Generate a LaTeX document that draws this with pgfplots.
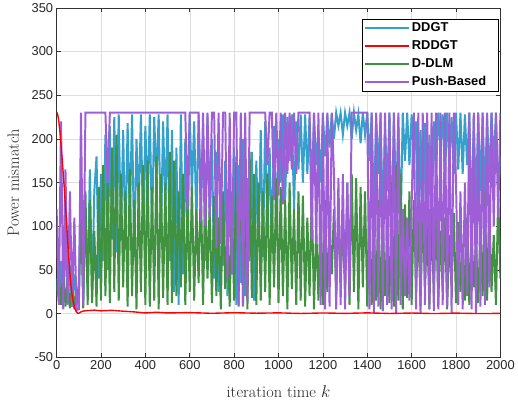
\documentclass[border=0pt]{standalone}
\usepackage{fontspec}
\usepackage{pgfplots}
\usepackage{pgfplotstable}
\pgfplotsset{compat=1.18}
\newfontfamily\arial{Liberation Sans}

\definecolor{cddgt}{RGB}{52,160,204}
\definecolor{cddlm}{RGB}{64,145,64}
\definecolor{cpush}{RGB}{158,95,214}

% x, DDGT, D-DLM, Push-Based (read every 10 iterations)
\pgfplotstableread{
x b g p
0 40 20 120
10 15 45 10
20 60 10 220
30 20 55 5
40 85 8 165
50 10 40 12
60 55 6 140
70 8 35 8
80 45 5 110
90 12 30 4
100 25 8 5
110 150 120 230
120 15 6 10
130 120 140 230
140 30 10 230
150 165 130 230
160 20 12 230
170 140 95 230
180 180 8 230
190 40 145 230
200 160 15 230
210 60 170 230
220 205 20 230
230 50 150 150
240 215 12 230
250 85 190 230
260 225 25 230
270 70 205 230
280 228 15 230
290 90 160 230
300 210 30 230
310 75 140 230
320 218 8 230
330 110 165 230
340 228 20 230
350 65 130 230
360 200 5 230
370 120 150 230
380 228 25 230
390 90 170 230
400 215 10 230
410 130 175 230
420 228 8 230
430 95 145 230
440 225 15 230
450 150 180 230
460 228 5 230
470 85 160 230
480 220 18 230
490 120 150 230
500 228 10 230
510 60 185 230
520 210 12 230
530 25 175 230
540 190 20 230
550 10 140 230
560 228 30 230
570 45 160 230
580 200 10 230
590 70 130 120
600 228 25 230
610 140 145 230
620 220 15 230
630 100 120 230
640 228 35 230
650 130 150 105
660 205 10 230
670 60 140 100
680 225 40 230
690 110 125 110
700 200 12 230
710 40 135 230
720 185 20 75
730 25 110 230
740 160 5 80
750 55 140 230
760 175 28 230
770 20 100 40
780 150 8 230
790 45 130 45
800 190 15 230
810 10 180 230
820 170 8 10
830 35 195 230
840 200 12 8
850 20 150 230
860 155 5 15
870 60 185 230
880 185 18 230
890 15 160 230
900 175 10 230
910 80 150 230
920 210 15 230
930 65 140 230
940 220 25 230
950 100 160 170
960 190 10 230
970 70 135 230
980 215 30 130
990 90 155 230
1000 200 12 135
1010 150 145 230
1020 228 20 125
1030 130 130 230
1040 225 5 160
1050 175 150 230
1060 228 28 165
1070 120 120 230
1080 220 10 160
1090 165 140 230
1100 228 15 230
1110 150 135 230
1120 228 8 230
1130 160 110 230
1140 225 20 230
1150 140 140 85
1160 228 5 230
1170 170 100 80
1180 210 15 230
1190 150 125 10
1200 228 10 230
1210 180 130 5
1220 228 25 230
1230 190 95 8
1240 228 45 230
1250 200 120 160
1260 230 20 5
1270 215 110 155
1280 230 50 10
1290 205 90 160
1300 230 30 5
1310 215 150 150
1320 230 10 20
1330 200 160 230
1340 230 25 230
1350 210 155 230
1360 228 5 230
1370 195 145 230
1380 230 30 230
1390 205 140 230
1400 230 8 230
1410 175 125 5
1420 230 10 230
1430 110 100 0
1440 228 15 230
1450 160 130 8
1460 230 5 230
1470 100 110 3
1480 220 20 230
1490 140 95 10
1500 230 12 230
1510 80 150 5
1520 230 8 230
1530 120 170 0
1540 225 15 230
1550 90 160 10
1560 230 5 120
1570 175 125 20
1580 230 18 110
1590 170 140 15
1600 228 10 125
1610 180 130 230
1620 220 25 5
1630 60 105 230
1640 210 8 0
1650 95 120 230
1660 218 30 10
1670 70 100 230
1680 205 5 5
1690 90 115 230
1700 220 20 3
1710 160 120 230
1720 230 10 5
1730 190 95 230
1740 228 25 10
1750 150 110 230
1760 230 5 8
1770 175 90 230
1780 225 30 0
1790 160 115 230
1800 230 12 150
1810 165 105 10
1820 230 25 140
1830 160 80 5
1840 228 15 150
1850 170 110 20
1860 230 10 230
1870 100 95 5
1880 225 30 230
1890 120 85 0
1900 230 12 230
1910 140 100 8
1920 230 20 230
1930 130 140 10
1940 228 15 230
1950 150 120 30
1960 230 25 230
1970 170 90 100
1980 230 10 230
1990 140 135 110
2000 180 40 230
}\mismatch

% RDDGT
\pgfplotstableread{
x r
0 231
5 228
10 220
15 208
20 193
25 177
30 160
35 142
40 123
45 104
50 84
55 64
60 46
65 32
70 21
75 13
80 8
85 4
90 2
95 0.5
100 0.5
110 2
120 3
140 3.5
170 4
200 3.2
250 3.8
300 2.8
350 2
400 0.8
450 1.6
500 0.8
600 1.2
700 0.4
800 1.1
900 0.5
1000 0.9
1100 0.2
1200 0.8
1300 0.3
1400 0.9
1500 0.2
1600 0.7
1700 0.1
1800 0.6
1900 0.1
2000 0.3
}\rddgt

\begin{document}
\begin{tikzpicture}
\begin{axis}[
  name=ax,
  scale only axis,
  width=447bp, height=352bp,
  xmin=0, xmax=2000, ymin=-50, ymax=350,
  xtick={0,200,...,2000},
  ytick={-50,0,...,350},
  scaled ticks=false,
  grid=major,
  major grid style={black!13, line width=0.4pt},
  tick align=inside,
  major tick length=4bp,
  axis line style={black!80, line width=0.5pt},
  tick style={black!80, line width=0.5pt},
  ticklabel style={font=\arial\fontsize{13}{15}\selectfont, text=black!85},
  /pgf/number format/assume math mode=true,
  /pgf/number format/1000 sep={},
  xlabel={iteration time $k$},
  ylabel={Power mismatch},
  label style={font=\fontsize{16.5}{19}\selectfont, text=black!85},
  xlabel style={at={(axis description cs:0.5,-0.1136)}, anchor=base},
  ylabel style={at={(axis description cs:-0.085,0.5)}, anchor=base},
  legend cell align=left,
  legend style={at={(0.9955,0.969)}, anchor=north east,
    font=\arial\bfseries\fontsize{13}{15}\selectfont,
    draw=black, line width=0.5pt, fill=white,
    inner xsep=2bp, inner ysep=2bp, row sep=3.5bp},
  legend image code/.code={\draw[#1] (0bp,0bp) -- (44bp,0bp);},
]
\addlegendimage{draw=cddgt, line width=1.6pt}
\addlegendentry{DDGT}
\addlegendimage{draw=red, line width=1.6pt}
\addlegendentry{RDDGT}
\addlegendimage{draw=cddlm, line width=1.6pt}
\addlegendentry{D-DLM}
\addlegendimage{draw=cpush, line width=1.6pt}
\addlegendentry{Push-Based\hspace*{8bp}}

\addplot[cddgt, line width=2pt, forget plot] table[x=x, y=b] {\mismatch};
\addplot[cddlm, line width=2pt, forget plot] table[x=x, y=g] {\mismatch};
\addplot[cpush, line width=2pt, forget plot] table[x=x, y=p] {\mismatch};
\addplot[red, line width=1.4pt, forget plot] table[x=x, y=r] {\rddgt};
\end{axis}
\path (ax.south west) ++(-57bp,-45bp);
\path (ax.north east) ++(14bp,5bp);
\end{tikzpicture}
\end{document}
